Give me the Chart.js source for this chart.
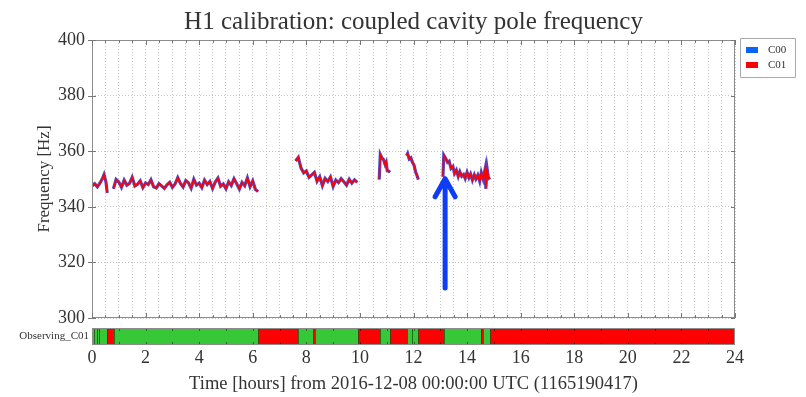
<!DOCTYPE html>
<html>
<head>
<meta charset="utf-8">
<script src="https://cdn.jsdelivr.net/npm/chart.js@4.4.0/dist/chart.umd.min.js"></script>
<style>
  html, body { margin: 0; padding: 0; background: #fff; }
</style>
</head>
<body>
<canvas id="chart" width="806" height="397"></canvas>
<script>
// Sample times (hours from 2016-12-08 00:00 UTC); null values break the line
const hours = [
    0, 0.1, 0.2, 0.3, 0.4, 0.45, 0.52, 0.57,
    0.7,
    0.8, 0.9, 1.0, 1.1, 1.2, 1.3, 1.4, 1.5, 1.6, 1.7, 1.8, 1.9,
    2.0, 2.1, 2.2, 2.3, 2.4, 2.5, 2.6, 2.7, 2.8, 2.9,
    3.0, 3.1, 3.2, 3.3, 3.4, 3.5, 3.6, 3.7, 3.8, 3.9,
    4.0, 4.1, 4.2, 4.3, 4.4, 4.5, 4.6, 4.7, 4.8, 4.9,
    5.0, 5.1, 5.2, 5.3, 5.4, 5.5, 5.6, 5.7, 5.8, 5.9,
    6.0, 6.1, 6.2,
    6.9,
    7.6, 7.7, 7.8, 7.9, 8.0, 8.1, 8.2, 8.3, 8.4, 8.5, 8.6, 8.7,
    8.8, 8.9, 9.0, 9.1, 9.2, 9.3, 9.4, 9.5, 9.6, 9.7, 9.8, 9.9,
    10.3,
    10.72, 10.76, 10.82, 10.88, 10.94, 10.98, 11.02, 11.08, 11.12,
    11.4,
    11.74, 11.78, 11.84, 11.9, 11.96, 12.02, 12.08, 12.14, 12.18,
    12.6,
    13.1, 13.13, 13.2, 13.27, 13.33, 13.4, 13.47, 13.53, 13.6, 13.67,
    13.73, 13.8, 13.87, 13.93, 14.0, 14.07, 14.13, 14.2, 14.27, 14.33,
    14.4, 14.47, 14.53, 14.6, 14.67, 14.7, 14.75, 14.8, 14.86
];

// Coupled cavity pole frequency [Hz], C01 calibration
const c01 = [
    347.5, 348.3, 347.2, 348.6, 350.4, 351.6, 349.0, 345.0,
    null,
    346.5, 349.8, 348.9, 347.0, 349.6, 347.8, 348.4, 350.6, 347.5, 348.1, 349.3, 346.9,
    348.6, 348.0, 349.7, 347.2, 346.8, 348.3, 347.5, 346.6, 347.9, 348.8,
    347.0, 348.2, 350.5, 348.4, 347.1, 349.4, 348.6, 346.7, 349.9, 347.8,
    348.5, 346.9, 349.6, 348.0, 349.1, 346.6, 348.9, 350.3, 347.4, 348.2,
    346.5, 349.0, 347.7, 350.1, 348.3, 346.4, 348.8, 347.6, 350.4, 347.2,
    349.3, 346.2, 345.5,
    null,
    356.5, 357.8, 354.0, 352.2, 352.9, 350.6, 351.5, 352.4, 349.2, 350.8, 347.6, 350.2,
    349.1, 350.7, 347.3, 349.6, 348.7, 350.1, 349.0, 347.8, 349.9, 348.5, 349.7, 348.8,
    null,
    349.8, 358.8, 357.6, 357.0, 355.2, 356.0, 353.0, 352.8, 352.4,
    null,
    358.4, 359.2, 357.2, 357.6, 356.0, 355.0, 352.5, 351.0, 349.8,
    null,
    350.8, 358.6, 357.5, 356.0, 356.4, 353.8, 354.5, 352.0, 353.2, 350.9,
    352.6, 351.0, 351.6, 350.2, 352.4, 350.5, 351.8, 349.6, 351.5, 350.0,
    351.4, 349.2, 352.3, 350.0, 353.4, 346.5, 353.6, 350.2, 350.6
];

// C00 lies exactly under C01 in the picture
const c00 = c01.slice();

// Observing_C01 state segments: start hour and state (1 = observing, green)
const obsStart = [0, 0.56, 0.82, 6.2, 7.69, 8.26, 8.33, 9.93, 10.75, 11.12, 11.76, 12.17, 13.14, 14.52, 14.6, 14.86];
const obsState = [1, 0, 1, 0, 1, 0, 1, 0, 1, 0, 1, 0, 1, 0, 1, 0];
const obsMarks = [0.08, 0.17, 0.26, 11.96];

const xTickLabels = [0, 2, 4, 6, 8, 10, 12, 14, 16, 18, 20, 22, 24];

// Arrow annotation: hour, tail value, tip value
const arrowHour = 13.18;
const arrowTail = 310.8;
const arrowTip = 350.8;

const serif = "'Liberation Serif', 'DejaVu Serif', serif";
const textColor = '#333';
const frameColor = '#8c8c8c';
const gridColor = '#c4c4c4';

const decor = {
    id: 'decor',
    afterDatasetsDraw(chart) {
        const { ctx, chartArea: a, scales: { x, y } } = chart;
        ctx.save();

        // plot frame
        ctx.strokeStyle = frameColor;
        ctx.lineWidth = 1;
        ctx.strokeRect(a.left + 0.5, a.top + 0.5, a.right - a.left - 1, a.bottom - a.top - 1);

        // inward minor ticks on top and bottom edges
        ctx.strokeStyle = '#777';
        for (let h = 0; h <= 24; h += 0.5) {
            const px = Math.round(x.getPixelForValue(h)) + 0.5;
            const len = h % 2 === 0 ? 5 : 3;
            ctx.beginPath();
            ctx.moveTo(px, a.top); ctx.lineTo(px, a.top + len);
            ctx.moveTo(px, a.bottom); ctx.lineTo(px, a.bottom - len);
            ctx.stroke();
        }
        // y ticks
        for (let v = 300; v <= 400; v += 20) {
            const py = Math.round(y.getPixelForValue(v)) + 0.5;
            ctx.beginPath();
            ctx.moveTo(a.left - 4, py); ctx.lineTo(a.left + 4, py);
            ctx.moveTo(a.right - 4, py); ctx.lineTo(a.right, py);
            ctx.stroke();
        }

        // observing bar
        const bTop = a.bottom + 10;
        const bBot = a.bottom + 27;
        for (let i = 0; i < obsStart.length; i++) {
            const x0 = x.getPixelForValue(obsStart[i]);
            const x1 = x.getPixelForValue(i + 1 < obsStart.length ? obsStart[i + 1] : 24);
            ctx.fillStyle = obsState[i] ? '#37c837' : '#ff0000';
            ctx.fillRect(x0, bTop, x1 - x0, bBot - bTop);
        }
        ctx.strokeStyle = 'rgba(20,70,20,0.7)';
        obsStart.slice(1).concat(obsMarks).forEach(h => {
            const px = Math.round(x.getPixelForValue(h)) + 0.5;
            ctx.beginPath(); ctx.moveTo(px, bTop); ctx.lineTo(px, bBot); ctx.stroke();
        });
        ctx.strokeStyle = 'rgba(0,0,0,0.45)';
        for (let h = 1; h < 24; h++) {
            const px = Math.round(x.getPixelForValue(h)) + 0.5;
            ctx.beginPath();
            ctx.moveTo(px, bTop); ctx.lineTo(px, bTop + 3);
            ctx.moveTo(px, bBot); ctx.lineTo(px, bBot - 3);
            ctx.stroke();
        }
        ctx.strokeStyle = frameColor;
        ctx.strokeRect(a.left + 0.5, bTop + 0.5, a.right - a.left - 1, bBot - bTop - 1);
        ctx.fillStyle = textColor;
        ctx.font = '11px ' + serif;
        ctx.textAlign = 'right';
        ctx.textBaseline = 'middle';
        ctx.fillText('Observing_C01', a.left - 3, (bTop + bBot) / 2);

        // arrow
        const ax = x.getPixelForValue(arrowHour);
        const yTip = y.getPixelForValue(arrowTip);
        const yTail = y.getPixelForValue(arrowTail);
        ctx.strokeStyle = '#0f3cf5';
        ctx.lineWidth = 5;
        ctx.lineCap = 'round';
        ctx.lineJoin = 'round';
        ctx.beginPath();
        ctx.moveTo(ax, yTail); ctx.lineTo(ax, yTip + 2);
        ctx.moveTo(ax - 10, yTip + 20); ctx.lineTo(ax, yTip + 2); ctx.lineTo(ax + 10, yTip + 20);
        ctx.stroke();

        // legend
        const lx = a.right + 5;
        ctx.lineWidth = 1;
        ctx.lineCap = 'butt';
        ctx.strokeStyle = '#aaa';
        ctx.strokeRect(lx + 0.5, a.top - 1.5, 55, 39);
        ctx.fillStyle = '#0a64ff';
        ctx.fillRect(lx + 6, a.top + 7, 12, 6);
        ctx.fillStyle = '#ff0000';
        ctx.fillRect(lx + 6, a.top + 22, 12, 6);
        ctx.fillStyle = textColor;
        ctx.textAlign = 'left';
        ctx.fillText('C00', lx + 28, a.top + 10);
        ctx.fillText('C01', lx + 28, a.top + 25);

        ctx.restore();
    }
};

const toPoints = vals => hours.map((h, i) => ({ x: h, y: vals[i] }));

new Chart(document.getElementById('chart'), {
    type: 'line',
    data: {
        datasets: [
            {
                label: 'C01',
                data: toPoints(c01),
                borderColor: '#ff0000',
                borderWidth: 1.6,
                pointRadius: 0,
                spanGaps: false,
                order: 0
            },
            {
                label: 'C00',
                data: toPoints(c00),
                borderColor: '#4a4ad0',
                borderWidth: 3.2,
                pointRadius: 0,
                spanGaps: false,
                order: 1
            }
        ]
    },
    options: {
        responsive: false,
        animation: false,
        events: [],
        layout: { padding: { left: 0, right: 71, top: 0, bottom: 0 } },
        plugins: {
            legend: { display: false },
            tooltip: { enabled: false }
        },
        scales: {
            x: {
                type: 'linear',
                min: 0,
                max: 24,
                afterFit: s => { s.height = 79; },
                border: { display: false, dash: [1, 2] },
                grid: { color: gridColor, drawTicks: false },
                ticks: {
                    stepSize: 0.5,
                    autoSkip: false,
                    maxRotation: 0,
                    padding: 29,
                    color: textColor,
                    font: { family: serif, size: 18 },
                    callback: v => xTickLabels.includes(v) ? String(v) : ''
                },
                title: {
                    display: true,
                    text: 'Time [hours] from 2016-12-08 00:00:00 UTC (1165190417)',
                    color: textColor,
                    font: { family: serif, size: 18.5 },
                    padding: { top: 0, bottom: 2 }
                }
            },
            top: {
                type: 'linear',
                position: 'top',
                min: 0,
                max: 24,
                afterFit: s => { s.height = 40; },
                border: { display: false },
                grid: { display: false },
                ticks: { display: false },
                title: {
                    display: true,
                    text: 'H1 calibration: coupled cavity pole frequency',
                    color: textColor,
                    font: { family: serif, size: 25 },
                    padding: { top: 7, bottom: 0 }
                }
            },
            y: {
                min: 300,
                max: 400,
                afterFit: s => { s.width = 92; },
                border: { display: false, dash: [1, 2] },
                grid: { color: gridColor, drawTicks: false },
                ticks: {
                    stepSize: 20,
                    padding: 7,
                    color: textColor,
                    font: { family: serif, size: 18 }
                },
                title: {
                    display: true,
                    text: 'Frequency [Hz]',
                    color: textColor,
                    font: { family: serif, size: 17 },
                    padding: { top: 34, bottom: 0 }
                }
            }
        }
    },
    plugins: [decor]
});
</script>
</body>
</html>
